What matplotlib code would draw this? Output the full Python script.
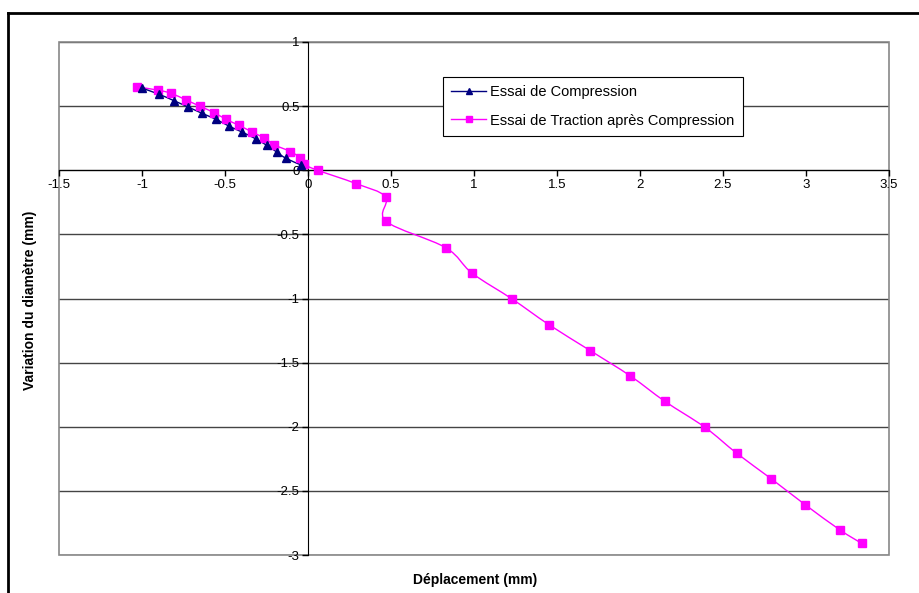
import numpy as np
import matplotlib.pyplot as plt
from matplotlib.path import Path
from matplotlib.patches import PathPatch, Rectangle
from matplotlib.lines import Line2D

plt.rcParams['font.family'] = ['Liberation Sans', 'DejaVu Sans']

# Essai de Compression
comp_x = [-1.00, -0.90, -0.805, -0.725, -0.637, -0.552, -0.476, -0.396,
          -0.315, -0.247, -0.187, -0.134, -0.04]
comp_y = [0.64, 0.594, 0.541, 0.495, 0.443, 0.396, 0.344, 0.297,
          0.245, 0.193, 0.141, 0.094, 0.04]

# Essai de Traction apres Compression
trac_x = [-1.03, -0.905, -0.825, -0.733, -0.652, -0.564, -0.492, -0.414,
          -0.335, -0.263, -0.203, -0.106, -0.05, -0.026, 0.058, 0.289,
          0.468, 0.47, 0.83, 0.988, 1.231, 1.45, 1.70, 1.942, 2.15,
          2.392, 2.582, 2.791, 2.994, 3.205, 3.335]
trac_y = [0.65, 0.625, 0.6, 0.547, 0.5, 0.448, 0.396, 0.349,
          0.297, 0.25, 0.198, 0.146, 0.099, 0.047, 0.0, -0.104,
          -0.208, -0.398, -0.604, -0.802, -1.005, -1.203, -1.406, -1.604, -1.802,
          -2.005, -2.206, -2.406, -2.607, -2.805, -2.909]

labels = ['Essai de Compression', 'Essai de Traction après Compression']
colors = ['#000080', '#FF00FF']


def smooth_path(x, y):
    # Excel-like smoothed line: Catmull-Rom segments as cubic Bezier curves
    p = np.column_stack([x, y])
    verts = [p[0]]
    codes = [Path.MOVETO]
    n = len(p)
    for i in range(n - 1):
        p0 = p[i - 1] if i > 0 else p[i]
        p3 = p[i + 2] if i + 2 < n else p[i + 1]
        c1 = p[i] + (p[i + 1] - p0) / 6.0
        c2 = p[i + 1] - (p3 - p[i]) / 6.0
        verts += [c1, c2, p[i + 1]]
        codes += [Path.CURVE4] * 3
    return Path(verts, codes)


fig = plt.figure(figsize=(9.19, 5.93), dpi=100)
ax = fig.add_axes([59 / 919, 1 - 555 / 593, 830 / 919, 513 / 593])

ax.set_xlim(-1.5, 3.5)
ax.set_ylim(-3, 1)

# horizontal gridlines
for yv in np.arange(-3, 1.01, 0.5):
    ax.axhline(yv, color='#444444', lw=1.0, zorder=1)

# smoothed lines + markers
ax.add_patch(PathPatch(smooth_path(trac_x, trac_y), facecolor='none',
                       edgecolor=colors[1], lw=1.0, zorder=3))
ax.add_patch(PathPatch(smooth_path(comp_x, comp_y), facecolor='none',
                       edgecolor=colors[0], lw=1.0, zorder=3))
ax.plot(trac_x, trac_y, linestyle='none', marker='s', ms=5.5,
        color=colors[1], zorder=4)
ax.plot(comp_x, comp_y, linestyle='none', marker='^', ms=5.5,
        color=colors[0], zorder=5)

# axes crossing at zero
for s in ['top', 'right']:
    ax.spines[s].set_visible(False)
ax.spines['left'].set_position(('data', 0))
ax.spines['bottom'].set_position(('data', 0))
ax.spines['left'].set_zorder(2)
ax.spines['bottom'].set_zorder(2)
ax.add_patch(Rectangle((0, 0), 1, 1, transform=ax.transAxes, fill=False,
                       edgecolor='#888888', lw=1.2, clip_on=False, zorder=1.5))

ax.set_xticks(np.arange(-1.5, 3.51, 0.5))
ax.set_yticks(np.arange(-3, 1.01, 0.5))
ax.set_xticklabels(['-1.5', '-1', '-0.5', '0', '0.5', '1', '1.5', '2', '2.5', '3', '3.5'])
ax.set_yticklabels(['-3', '-2.5', '-2', '-1.5', '-1', '-0.5', '0', '0.5', '1'])
ax.tick_params(direction='out', length=4, width=1, labelsize=9.5, pad=2)

fig.text(475 / 919, 1 - 580 / 593, 'Déplacement (mm)', ha='center', va='center',
         fontsize=10, fontweight='bold')
fig.text(30 / 919, 1 - 300 / 593, 'Variation du diamètre (mm)', ha='center',
         va='center', rotation=90, fontsize=10, fontweight='bold')

handles = [Line2D([], [], color=colors[0], marker='^', ms=5, lw=1),
           Line2D([], [], color=colors[1], marker='s', ms=5, lw=1)]
leg = ax.legend(handles, labels, loc='upper left',
                bbox_to_anchor=((443 - 59) / 830, (555 - 77) / 513),
                fontsize=10.5, frameon=True, fancybox=False, edgecolor='black',
                framealpha=1, handlelength=2.4, handletextpad=0.3,
                borderpad=0.55, labelspacing=1.0, borderaxespad=0)
leg.get_frame().set_linewidth(0.8)

# outer chart border
fig.add_artist(Line2D([8 / 919, 8 / 919], [0, 1 - 13 / 593], color='black',
                      lw=2, transform=fig.transFigure))
fig.add_artist(Line2D([8 / 919, 1], [1 - 13 / 593, 1 - 13 / 593], color='black',
                      lw=2, transform=fig.transFigure))

fig.savefig('out.png', dpi=100)
